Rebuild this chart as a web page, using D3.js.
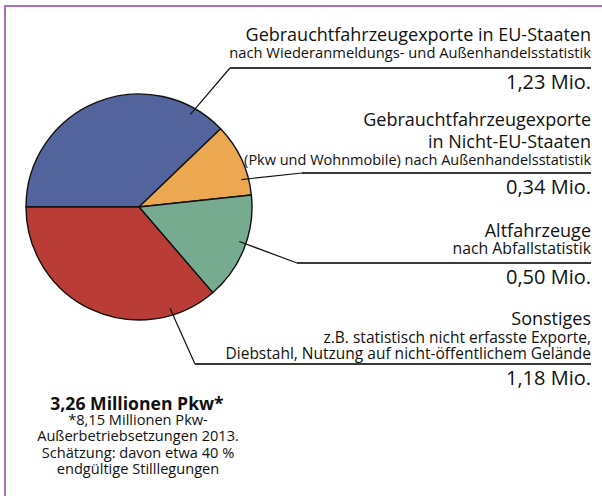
<!DOCTYPE html>
<html>
<head>
<meta charset="utf-8">
<script src="https://cdn.jsdelivr.net/npm/d3@7"></script>
<style>
  body { margin: 0; background: #fff; }
  svg { display: block; font-family: "Open Sans", sans-serif; }
</style>
</head>
<body>
<div id="chart"></div>
<script>
// Data
var titles = [
  ["Gebrauchtfahrzeugexporte in EU-Staaten"],
  ["Gebrauchtfahrzeugexporte", "in Nicht-EU-Staaten"],
  ["Altfahrzeuge"],
  ["Sonstiges"]
]
var subtitles = [
  ["nach Wiederanmeldungs- und Außenhandelsstatistik"],
  ["(Pkw und Wohnmobile) nach Außenhandelsstatistik"],
  ["nach Abfallstatistik"],
  ["z.B. statistisch nicht erfasste Exporte,", "Diebstahl, Nutzung auf nicht-öffentlichem Gelände"]
]
var values = [1.23, 0.34, 0.50, 1.18]
var colors = ["#53639c", "#eca751", "#77ab8f", "#b93c37"]
var totalValue = 3.26
var footnote = [
  "*8,15 Millionen Pkw-",
  "Außerbetriebsetzungen 2013.",
  "Schätzung: davon etwa 40 %",
  "endgültige Stilllegungen"
]

// Layout
const width = 602, height = 496
const cx = 139, cy = 207, radius = 113
const labelRight = 591
const lineY = [68, 173, 263, 364]       // horizontal leader lines
const elbowX = [230, 302, 297, 195]
const anchorDeg = [29, 75, 109, 163]     // where leaders start inside the slices
const anchorR = 106
const subSize = [14.7, 14.5, 15.8, 15.5]
const subGap = [10, 8, 9, 5]             // last subtitle baseline above the line

const de = d3.formatLocale({decimal: ",", thousands: ".", grouping: [3], currency: ["", " €"]})
const fmt = de.format(".2f")

const svg = d3.select("#chart")
  .append("svg")
  .attr("width", width)
  .attr("height", height)

// frame
svg.append("path")
  .attr("d", "M5," + height + "V6H" + width)
  .attr("fill", "none")
  .attr("stroke", "#a674b6")
  .attr("stroke-width", 2)

// Pie
const pie = d3.pie()
  .sort(null)
  .startAngle(-Math.PI / 2)
  .endAngle(Math.PI * 1.5)

const arc = d3.arc().innerRadius(0).outerRadius(radius)

const g = svg.append("g")
  .attr("transform", "translate(" + cx + "," + cy + ")")

g.selectAll("path")
  .data(pie(values))
  .enter()
  .append("path")
  .attr("d", arc)
  .attr("fill", (d, i) => colors[i])
  .attr("stroke", "#111")
  .attr("stroke-width", 1.4)
  .attr("stroke-linejoin", "round")

// Labels
values.forEach(function(v, i) {
  const a = anchorDeg[i] * Math.PI / 180
  const ax = cx + anchorR * Math.sin(a)
  const ay = cy - anchorR * Math.cos(a)

  const subs = subtitles[i]
  const subStep = 16.5
  const subBase = lineY[i] - subGap[i]
  const titleBase = subBase - (subs.length - 1) * subStep - 17.5
  const tops = titleBase - (titles[i].length - 1) * 22

  svg.append("path")
    .attr("d", "M" + ax + "," + ay + "L" + elbowX[i] + "," + lineY[i])
    .attr("fill", "none")
    .attr("stroke", "#111")
    .attr("stroke-width", 1.2)

  svg.append("line")
    .attr("x1", elbowX[i])
    .attr("x2", labelRight)
    .attr("y1", lineY[i])
    .attr("y2", lineY[i])
    .attr("stroke", "#3a3a3a")
    .attr("stroke-width", 2)

  titles[i].forEach(function(t, j) {
    svg.append("text")
      .attr("x", labelRight)
      .attr("y", tops + j * 22)
      .attr("text-anchor", "end")
      .attr("font-size", 18)
      .attr("fill", "#111")
      .text(t)
  })

  subs.forEach(function(t, j) {
    svg.append("text")
      .attr("x", labelRight)
      .attr("y", subBase - (subs.length - 1 - j) * subStep)
      .attr("text-anchor", "end")
      .attr("font-size", subSize[i])
      .attr("fill", "#111")
      .text(t)
  })

  svg.append("text")
    .attr("x", labelRight)
    .attr("y", lineY[i] + 21)
    .attr("text-anchor", "end")
    .attr("font-size", 20)
    .attr("fill", "#111")
    .text(fmt(v) + " Mio.")
})

// Total + footnote
svg.append("text")
  .attr("x", 137)
  .attr("y", 410)
  .attr("text-anchor", "middle")
  .attr("font-size", 17.6)
  .attr("font-weight", "bold")
  .attr("fill", "#111")
  .text(fmt(totalValue) + " Millionen Pkw*")

footnote.forEach(function(t, j) {
  svg.append("text")
    .attr("x", 138)
    .attr("y", 425 + j * 16.3)
    .attr("text-anchor", "middle")
    .attr("font-size", 14.6)
    .attr("fill", "#111")
    .text(t)
})
</script>
</body>
</html>
